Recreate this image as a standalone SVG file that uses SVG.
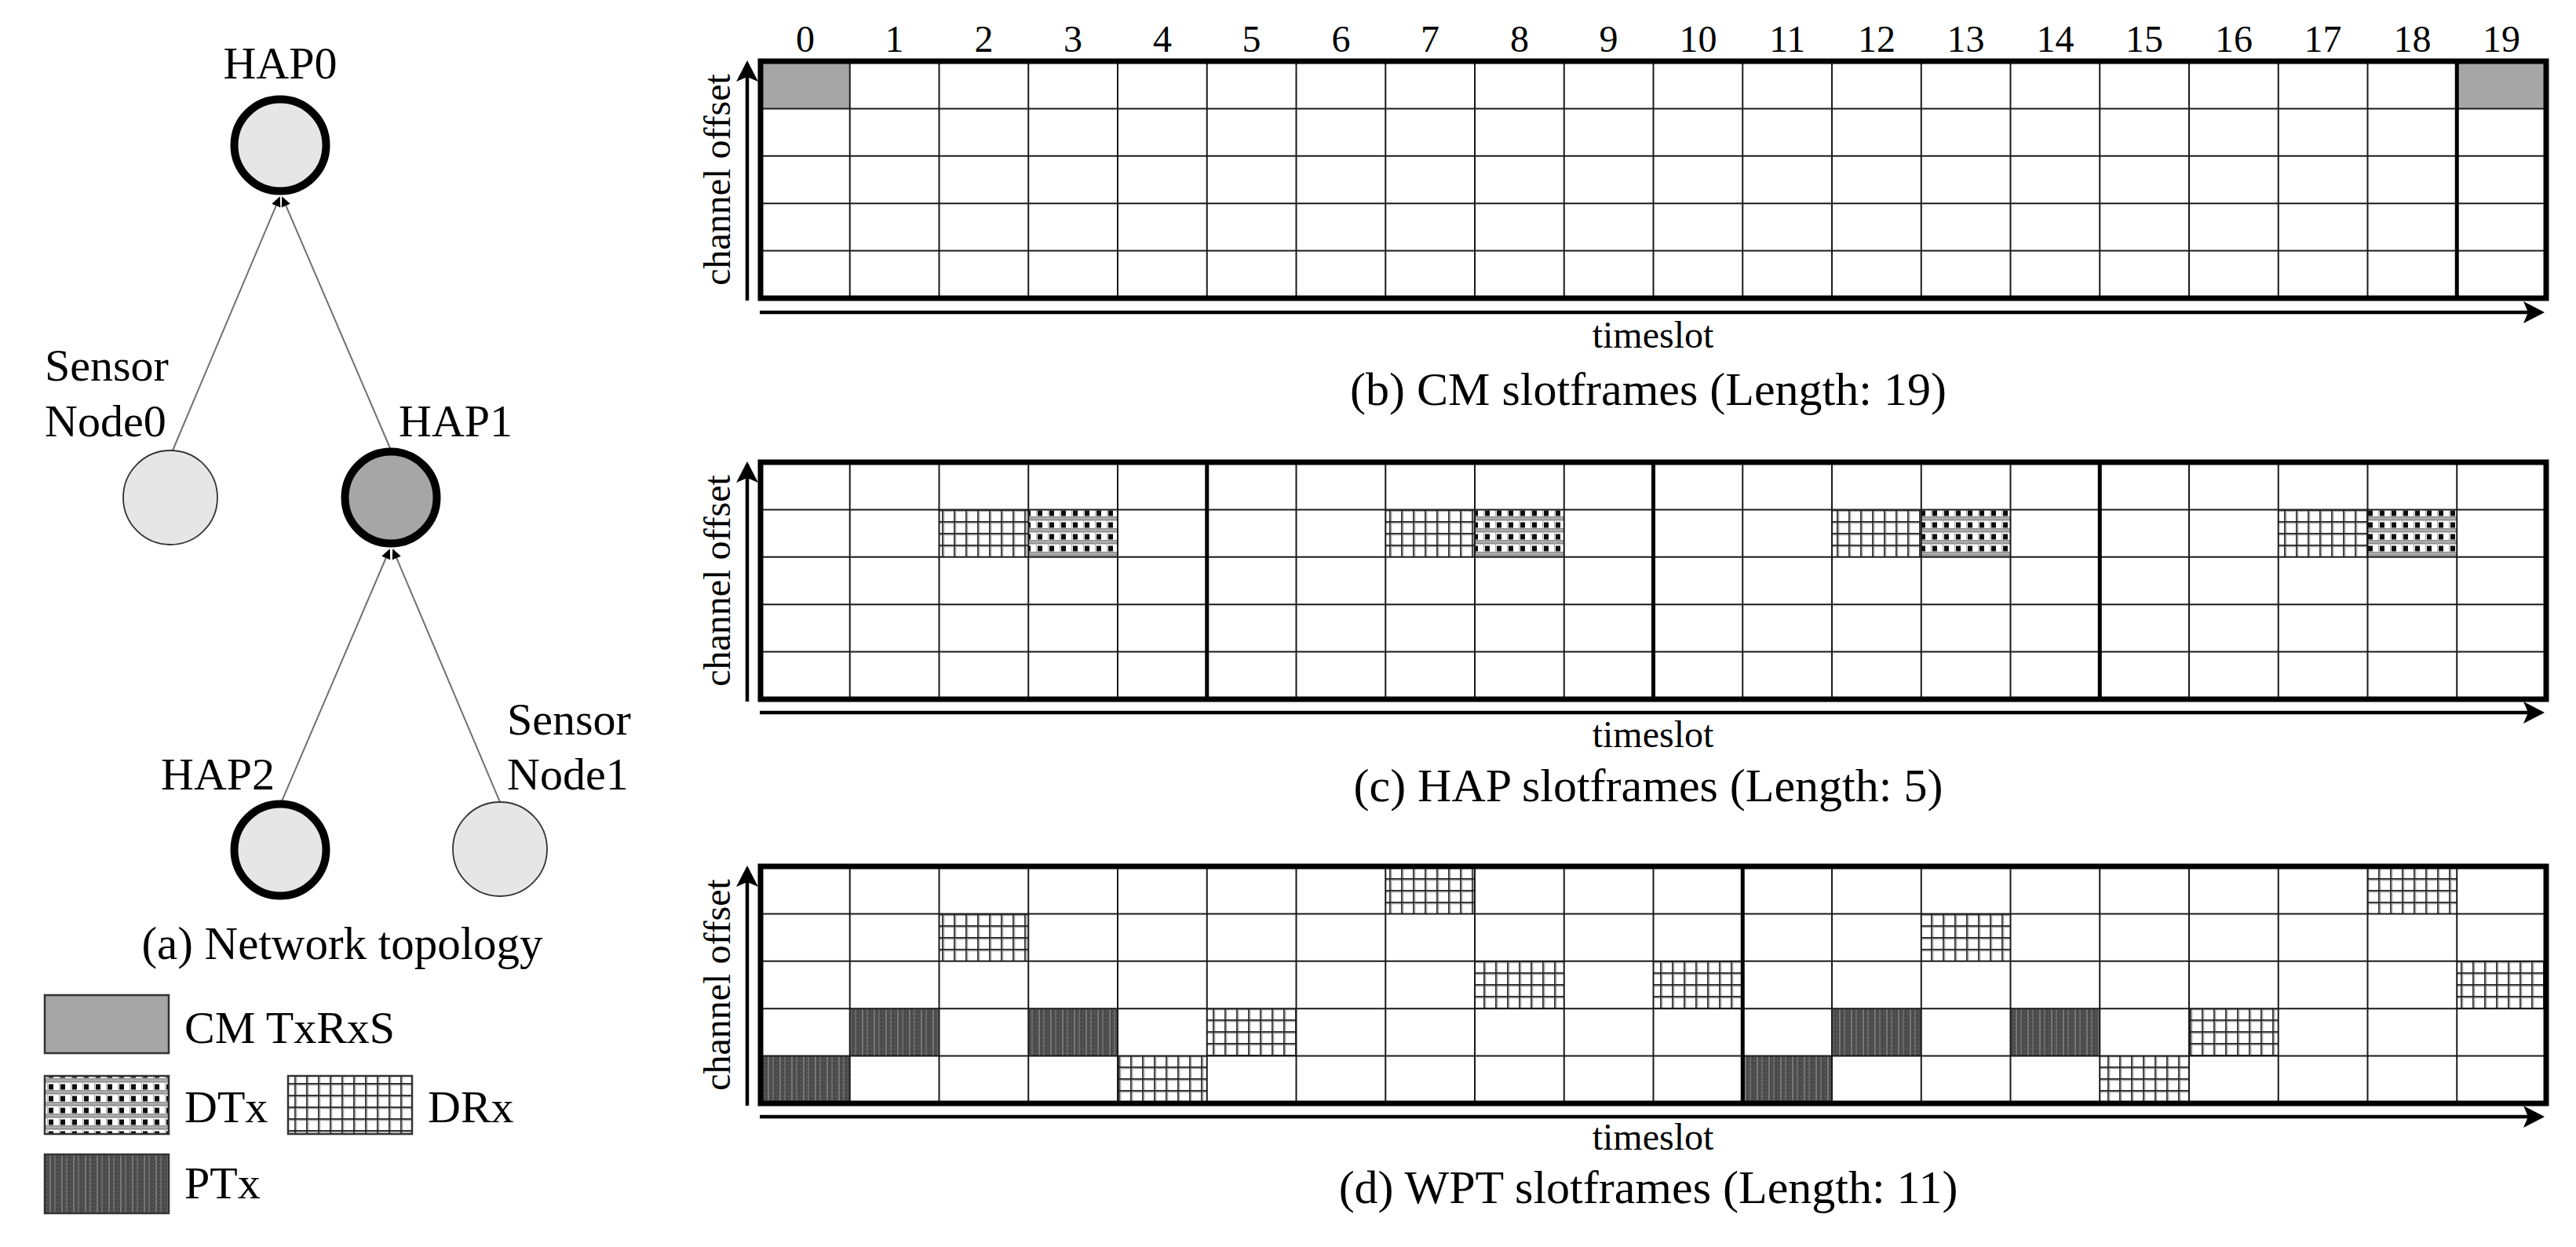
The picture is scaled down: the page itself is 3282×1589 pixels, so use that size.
<svg xmlns="http://www.w3.org/2000/svg" xmlns:xlink="http://www.w3.org/1999/xlink" width="3282" height="1589" viewBox="0 0 3282 1589">
<style>
text{font-family:"Liberation Serif","Times New Roman",serif;fill:#000}
.lbl{font-size:58px}
.cap{font-size:60px;text-anchor:middle}
.num{font-size:48px;text-anchor:middle}
.ax{font-size:48px;text-anchor:middle}
.mid{text-anchor:middle}
.thin{stroke:#1a1a1a;stroke-width:2;fill:none}
.border{stroke:#000;stroke-width:7;fill:none}
.sep{stroke:#000;stroke-width:5;fill:none}
.axis{stroke:#000;stroke-width:4.5;fill:none;marker-end:url(#axhead)}
.edge{stroke:#707070;stroke-width:2;fill:none;marker-end:url(#tip)}
.hap{stroke:#000;stroke-width:10}
.sn{stroke:#333;stroke-width:1.8;fill:#e6e6e6}
.light{fill:#e6e6e6}
.dark{fill:#a6a6a6}
.cm{fill:#a6a6a6}
.dtx{fill:url(#pDTx)}
.drx{fill:url(#pDRx)}
.ptx{fill:url(#pPTx)}
.leg{stroke:#333;stroke-width:2.5}
</style>
<defs>
<marker id="axhead" markerUnits="userSpaceOnUse" markerWidth="30" markerHeight="30" refX="24" refY="15" orient="auto" viewBox="0 0 30 30">
<path d="M28,15 L1,1 L7,15 L1,29 Z" fill="#000"/>
</marker>
<marker id="tip" markerUnits="userSpaceOnUse" markerWidth="14" markerHeight="14" refX="11" refY="7" orient="auto" viewBox="0 0 14 14">
<path d="M0,1 L13,7 L0,13 Z" fill="#000"/>
</marker>
<pattern id="pDTx" width="15" height="15" patternUnits="userSpaceOnUse">
<rect width="15" height="15" fill="#fff"/>
<rect y="9" width="15" height="5.5" fill="#8c8c8c"/>
<rect y="10.5" width="15" height="2" fill="#b5b5b5"/>
<rect x="2" y="1.5" width="6" height="7" fill="#0d0d0d"/>
<rect x="0" y="0" width="1.2" height="15" fill="#aaa"/>
</pattern>
<pattern id="pDRx" width="15" height="15" patternUnits="userSpaceOnUse">
<rect width="15" height="15" fill="#fff"/>
<path d="M2.6 0V15M0 2.6H15" stroke="#aaa" stroke-width="1.5"/>
<path d="M0.9 0V15M0 0.9H15" stroke="#222" stroke-width="1.6"/>
</pattern>
<pattern id="pPTx" width="15" height="15" patternUnits="userSpaceOnUse">
<rect width="15" height="15" fill="#4a4a4a"/>
<path d="M4 0V15" stroke="#9a9a9a" stroke-width="1.2"/>
<path d="M10 0V15" stroke="#7a7a7a" stroke-width="1.2"/>
<path d="M0 3H15M0 8H15M0 13H15" stroke="#6a6a6a" stroke-width="1" stroke-dasharray="1.5 2"/>
</pattern>
<path id="gridlines" class="thin" d="M1082.75 0V302M1196.5 0V302M1310.25 0V302M1424 0V302M1537.75 0V302M1651.5 0V302M1765.25 0V302M1879 0V302M1992.75 0V302M2106.5 0V302M2220.25 0V302M2334 0V302M2447.75 0V302M2561.5 0V302M2675.25 0V302M2789 0V302M2902.75 0V302M3016.5 0V302M3130.25 0V302M969 60.4H3244M969 120.8H3244M969 181.2H3244M969 241.6H3244"/>
</defs>
<rect width="3282" height="1589" fill="#fff"/>

<!-- (a) Network topology -->
<g id="connectors">
<line class="edge" x1="220" y1="574" x2="356" y2="252"/>
<line class="edge" x1="497" y1="571" x2="360" y2="252"/>
<line class="edge" x1="359" y1="1021" x2="496" y2="701"/>
<line class="edge" x1="637" y1="1022" x2="501" y2="701"/>
</g>
<g id="HAP0">
<circle class="hap light" cx="357" cy="185" r="58.5"/>
<text class="lbl mid" x="357" y="100">HAP0</text>
</g>
<g id="SensorNode0">
<circle class="sn" cx="217" cy="634" r="60"/>
<text class="lbl" x="57" y="485">Sensor</text>
<text class="lbl" x="57" y="556">Node0</text>
</g>
<g id="HAP1">
<circle class="hap dark" cx="498" cy="634" r="58.5"/>
<text class="lbl" x="508" y="556">HAP1</text>
</g>
<g id="HAP2">
<circle class="hap light" cx="357" cy="1083" r="58.5"/>
<text class="lbl" x="205" y="1006">HAP2</text>
</g>
<g id="SensorNode1">
<circle class="sn" cx="637" cy="1082" r="60"/>
<text class="lbl" x="646" y="936">Sensor</text>
<text class="lbl" x="646" y="1006">Node1</text>
</g>
<text id="cap-a" class="cap" x="436" y="1222" style="font-size:59px">(a) Network topology</text>

<!-- legend -->
<g id="legend">
<rect class="leg cm" x="57" y="1268" width="158" height="74"/>
<text class="lbl" x="235" y="1329">CM TxRxS</text>
<rect class="leg dtx" x="57" y="1371" width="158" height="74"/>
<text class="lbl" x="235" y="1430">DTx</text>
<rect class="leg drx" x="367" y="1371" width="158" height="74"/>
<text class="lbl" x="545" y="1430">DRx</text>
<rect class="leg ptx" x="57" y="1471" width="158" height="75"/>
<text class="lbl" x="235" y="1527">PTx</text>
</g>

<!-- column numbers -->
<g id="colnums" class="num">
<text class="num" x="1025.9" y="66">0</text>
<text class="num" x="1139.6" y="66">1</text>
<text class="num" x="1253.4" y="66">2</text>
<text class="num" x="1367.1" y="66">3</text>
<text class="num" x="1480.9" y="66">4</text>
<text class="num" x="1594.6" y="66">5</text>
<text class="num" x="1708.4" y="66">6</text>
<text class="num" x="1822.1" y="66">7</text>
<text class="num" x="1935.9" y="66">8</text>
<text class="num" x="2049.6" y="66">9</text>
<text class="num" x="2163.4" y="66">10</text>
<text class="num" x="2277.1" y="66">11</text>
<text class="num" x="2390.9" y="66">12</text>
<text class="num" x="2504.6" y="66">13</text>
<text class="num" x="2618.4" y="66">14</text>
<text class="num" x="2732.1" y="66">15</text>
<text class="num" x="2845.9" y="66">16</text>
<text class="num" x="2959.6" y="66">17</text>
<text class="num" x="3073.4" y="66">18</text>
<text class="num" x="3187.1" y="66">19</text>
</g>

<!-- (b) CM slotframes -->
<g id="cm-grid" transform="translate(0,78)">
<rect class="cm" x="969" y="0" width="113.75" height="60.4"/>
<rect class="cm" x="3130.25" y="0" width="113.75" height="60.4"/>
<use xlink:href="#gridlines" href="#gridlines"/>
<path class="sep" d="M3130.25 0V302"/>
<rect class="border" x="969" y="0" width="2275" height="302"/>
</g>
<g id="cm-axes">
<line class="axis" x1="952" y1="383" x2="952" y2="81"/>
<line class="axis" x1="968" y1="398" x2="3238" y2="398"/>
<text class="ax" transform="translate(930,229) rotate(-90)">channel offset</text>
<text class="ax" x="2106" y="443">timeslot</text>
<text class="cap" x="2100" y="516">(b) CM slotframes (Length: 19)</text>
</g>

<!-- (c) HAP slotframes -->
<g id="hap-grid" transform="translate(0,589)">
<rect class="drx" x="1196.5" y="60.4" width="113.75" height="60.4"/>
<rect class="drx" x="1765.25" y="60.4" width="113.75" height="60.4"/>
<rect class="drx" x="2334" y="60.4" width="113.75" height="60.4"/>
<rect class="drx" x="2902.75" y="60.4" width="113.75" height="60.4"/>
<rect class="dtx" x="1310.25" y="60.4" width="113.75" height="60.4"/>
<rect class="dtx" x="1879" y="60.4" width="113.75" height="60.4"/>
<rect class="dtx" x="2447.75" y="60.4" width="113.75" height="60.4"/>
<rect class="dtx" x="3016.5" y="60.4" width="113.75" height="60.4"/>
<use xlink:href="#gridlines" href="#gridlines"/>
<path class="sep" d="M1537.75 0V302M2106.5 0V302M2675.25 0V302"/>
<rect class="border" x="969" y="0" width="2275" height="302"/>
</g>
<g id="hap-axes">
<line class="axis" x1="952" y1="894" x2="952" y2="592"/>
<line class="axis" x1="968" y1="908" x2="3238" y2="908"/>
<text class="ax" transform="translate(930,740) rotate(-90)">channel offset</text>
<text class="ax" x="2106" y="952">timeslot</text>
<text class="cap" x="2100" y="1021">(c) HAP slotframes (Length: 5)</text>
</g>

<!-- (d) WPT slotframes -->
<g id="wpt-grid" transform="translate(0,1104)">
<rect class="ptx" x="969" y="241.6" width="113.75" height="60.4"/>
<rect class="ptx" x="1082.75" y="181.2" width="113.75" height="60.4"/>
<rect class="ptx" x="1310.25" y="181.2" width="113.75" height="60.4"/>
<rect class="ptx" x="2220.25" y="241.6" width="113.75" height="60.4"/>
<rect class="ptx" x="2334" y="181.2" width="113.75" height="60.4"/>
<rect class="ptx" x="2561.5" y="181.2" width="113.75" height="60.4"/>
<rect class="drx" x="1196.5" y="60.4" width="113.75" height="60.4"/>
<rect class="drx" x="1424" y="241.6" width="113.75" height="60.4"/>
<rect class="drx" x="1537.75" y="181.2" width="113.75" height="60.4"/>
<rect class="drx" x="1765.25" y="0" width="113.75" height="60.4"/>
<rect class="drx" x="1879" y="120.8" width="113.75" height="60.4"/>
<rect class="drx" x="2106.5" y="120.8" width="113.75" height="60.4"/>
<rect class="drx" x="2447.75" y="60.4" width="113.75" height="60.4"/>
<rect class="drx" x="2675.25" y="241.6" width="113.75" height="60.4"/>
<rect class="drx" x="2789" y="181.2" width="113.75" height="60.4"/>
<rect class="drx" x="3016.5" y="0" width="113.75" height="60.4"/>
<rect class="drx" x="3130.25" y="120.8" width="113.75" height="60.4"/>
<use xlink:href="#gridlines" href="#gridlines"/>
<path class="sep" d="M2220.25 0V302"/>
<rect class="border" x="969" y="0" width="2275" height="302"/>
</g>
<g id="wpt-axes">
<line class="axis" x1="952" y1="1409" x2="952" y2="1107"/>
<line class="axis" x1="968" y1="1423" x2="3238" y2="1423"/>
<text class="ax" transform="translate(930,1255) rotate(-90)">channel offset</text>
<text class="ax" x="2106" y="1465">timeslot</text>
<text class="cap" x="2100" y="1533">(d) WPT slotframes (Length: 11)</text>
</g>
</svg>
